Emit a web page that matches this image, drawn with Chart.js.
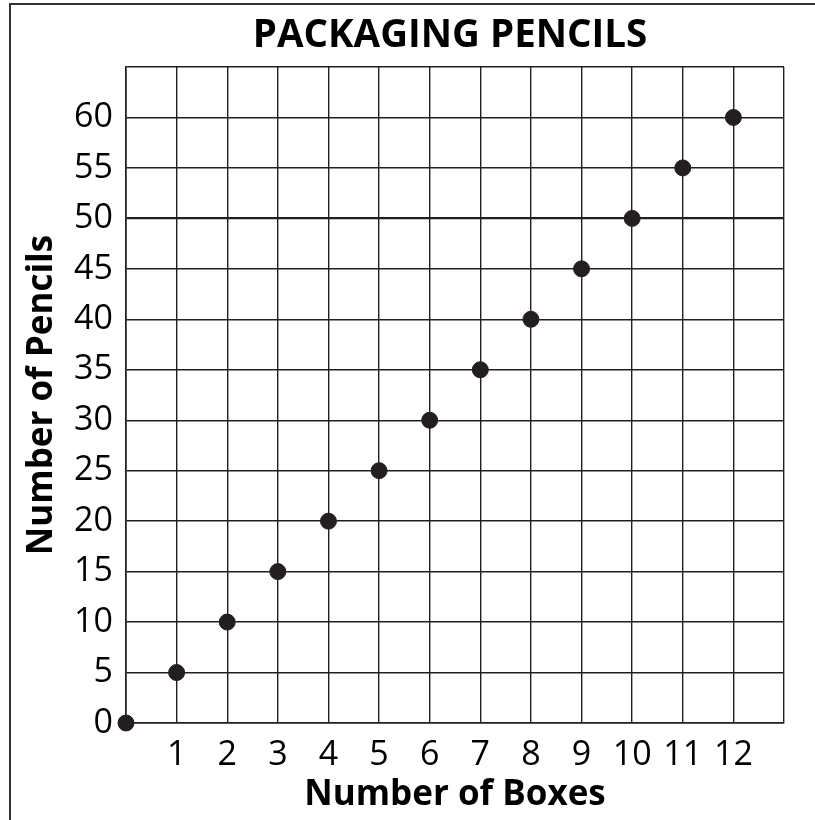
<!DOCTYPE html>
<html>
<head>
<meta charset="utf-8">
<script src="https://cdn.jsdelivr.net/npm/chart.js@4.4.0/dist/chart.umd.min.js"></script>
<style>
  html, body { margin: 0; padding: 0; background: #fff; }
  #wrap { position: relative; width: 815px; height: 820px; }
  #frame { position: absolute; left: 9px; top: 3px; width: 820px; height: 830px;
           border-left: 2px solid #333; border-top: 2px solid #333; box-sizing: border-box; }
  canvas { position: absolute; left: 0; top: 0; }
</style>
</head>
<body>
<div id="wrap">
  <div id="frame"></div>
  <canvas id="c" width="815" height="820"></canvas>
</div>
<script>
const chartTitle = 'PACKAGING PENCILS';
const xTitle = 'Number of Boxes';
const yTitle = 'Number of Pencils';
const boxes = [0, 1, 2, 3, 4, 5, 6, 7, 8, 9, 10, 11, 12];
const pencils = [0, 5, 10, 15, 20, 25, 30, 35, 40, 45, 50, 55, 60];
const xMax = 13;
const yMax = 65;
const xStep = 1;
const yStep = 5;

const FONT = "'Open Sans', 'Noto Sans', sans-serif";
const INK = '#231f20';

// shift the built-in title block so it is centred over the plot like the reference
const titleShift = {
  id: 'titleShift',
  beforeDraw(chart) {
    const tb = chart.titleBlock;
    if (tb) { tb.left = 116; tb.right = chart.chartArea.right; }
  }
};

new Chart(document.getElementById('c'), {
  type: 'scatter',
  data: {
    datasets: [{
      data: boxes.map((b, i) => ({ x: b, y: pencils[i] })),
      backgroundColor: INK,
      borderColor: INK,
      pointRadius: 8,
      pointHoverRadius: 8,
      clip: false
    }]
  },
  plugins: [titleShift],
  options: {
    responsive: false,
    animation: false,
    events: [],
    layout: { padding: { left: 0, right: 31, top: 0, bottom: 0 } },
    plugins: {
      legend: { display: false },
      tooltip: { enabled: false },
      title: {
        display: true,
        text: chartTitle,
        color: '#000',
        font: { family: FONT, size: 38.5, weight: 'bold', lineHeight: 1.2 },
        padding: { top: 13, bottom: 7.8 }
      }
    },
    scales: {
      x: {
        type: 'linear',
        min: 0, max: xMax,
        afterFit: s => { s.height = 97; },
        ticks: {
          stepSize: xStep,
          color: '#000',
          padding: 12,
          font: { family: FONT, size: 34 },
          maxRotation: 0,
          autoSkip: false,
          callback: v => (v === 0 || v === xMax) ? '' : String(v)
        },
        grid: { color: INK, lineWidth: 1.4, drawTicks: false },
        border: { color: INK, width: 1.6 },
        title: {
          display: true, text: xTitle, color: '#000',
          font: { family: FONT, size: 35, weight: 'bold', lineHeight: 1.2 },
          padding: { top: 0, bottom: 4 }
        }
      },
      y: {
        type: 'linear',
        min: 0, max: yMax,
        afterFit: s => { s.width = 126; },
        ticks: {
          stepSize: yStep,
          color: '#000',
          padding: 13,
          font: { family: FONT, size: 34 },
          autoSkip: false,
          callback: v => v === yMax ? '' : String(v)
        },
        grid: {
          color: INK,
          lineWidth: ctx => (ctx.tick && ctx.tick.value === 50) ? 2.2 : 1.4,
          drawTicks: false
        },
        border: { color: INK, width: 1.6 },
        title: {
          display: true, text: yTitle, color: '#000',
          font: { family: FONT, size: 35, weight: 'bold', lineHeight: 1.2 },
          padding: { top: 21, bottom: 0 }
        }
      }
    }
  }
});
</script>
</body>
</html>
